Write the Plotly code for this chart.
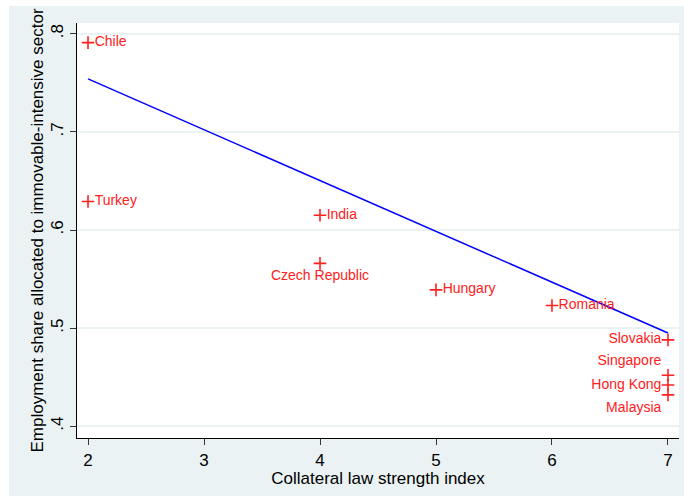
import plotly.graph_objects as go

# Data
countries = ["Chile", "Turkey", "India", "Czech Republic", "Hungary", "Romania",
             "Slovakia", "Singapore", "Hong Kong", "Malaysia"]
law_index = [2, 2, 4, 4, 5, 6, 7, 7, 7, 7]
emp_share = [0.791, 0.629, 0.615, 0.566, 0.539, 0.523, 0.488, 0.452, 0.442, 0.432]
label_pos = ["middle right", "middle right", "middle right", "bottom center", "middle right",
             "middle right", "middle left", "top left", "middle left", "bottom left"]

fit_x = [2, 7]
fit_y = [0.754, 0.495]

x_ticks = [2, 3, 4, 5, 6, 7]
y_ticks = [0.4, 0.5, 0.6, 0.7, 0.8]
y_ticktext = [".4", ".5", ".6", ".7", ".8"]

FONT = "Liberation Sans, Arial, sans-serif"
BG = "#eaf2f3"
RED = "#ff2020"

fig = go.Figure()
fig.add_trace(go.Scatter(
    x=fit_x, y=fit_y, mode="lines",
    line=dict(color="#0000ff", width=1.5), hoverinfo="skip", showlegend=False))
fig.add_trace(go.Scatter(
    x=law_index, y=emp_share, mode="markers+text", text=countries,
    textposition=label_pos,
    textfont=dict(family=FONT, size=14, color=RED),
    marker=dict(symbol="cross-thin", size=9, line=dict(color=RED, width=1.6), color=RED),
    showlegend=False))

L, R, T, B = 77, 5, 23, 64
W, H = 684, 502
pw, ph = W - L - R, H - T - B

def px2paper_x(px):
    return (px - L) / pw

def px2paper_y(py):
    return (H - B - py) / ph

fig.update_layout(
    width=W, height=H,
    margin=dict(l=L, r=R, t=T, b=B, pad=0),
    paper_bgcolor="white",
    plot_bgcolor="white",
    font=dict(family=FONT, size=17, color="black"),
    shapes=[
        dict(type="rect", xref="paper", yref="paper", layer="below",
             x0=px2paper_x(9), x1=px2paper_x(684), y0=px2paper_y(496), y1=px2paper_y(6),
             fillcolor=BG, line=dict(width=0)),
        dict(type="rect", xref="paper", yref="paper", layer="below",
             x0=0, x1=1, y0=0, y1=1, fillcolor="white", line=dict(width=0)),
    ],
    xaxis=dict(
        range=[1.905, 7.095], tickvals=x_ticks, showgrid=False, zeroline=False,
        showline=True, linecolor="black", linewidth=1.2,
        ticks="outside", ticklen=6, tickcolor="#333333", tickwidth=1,
        tickfont=dict(size=17),
        title=dict(text="Collateral law strength index", font=dict(size=17), standoff=0),
    ),
    yaxis=dict(
        range=[0.388, 0.811], tickvals=y_ticks, ticktext=y_ticktext, tickangle=-90,
        showgrid=True, gridcolor=BG, gridwidth=1.5, zeroline=False,
        showline=True, linecolor="black", linewidth=1.2,
        ticks="outside", ticklen=6, tickcolor="#333333", tickwidth=1,
        tickfont=dict(size=17),
        title=dict(text="Employment share allocated to immovable-intensive sector",
                   font=dict(size=17), standoff=0),
    ),
)

fig.write_html("out.html", config={"displayModeBar": False},
               post_script="document.body.style.margin='0px';")
